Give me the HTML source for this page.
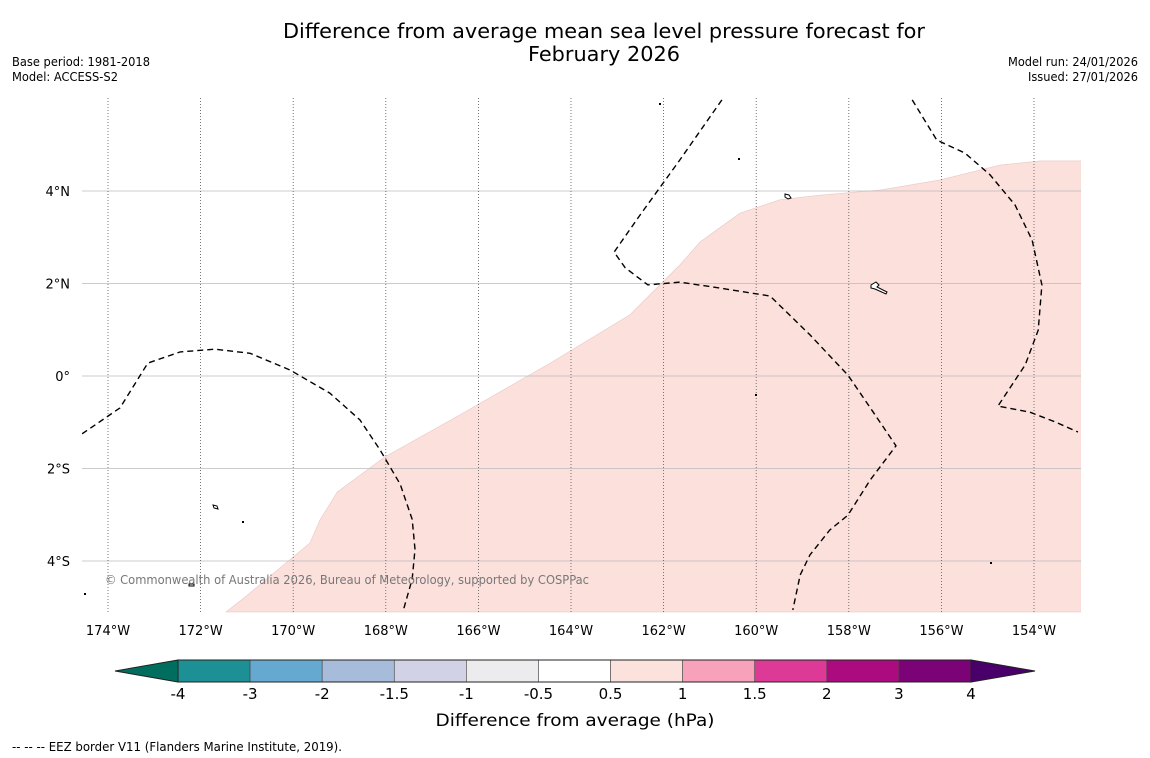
<!DOCTYPE html>
<html><head><meta charset="utf-8"><style>
body{margin:0;background:#fff;font-family:"DejaVu Sans","Liberation Sans",sans-serif}
svg{display:block}
</style></head><body>
<svg id="chart" width="1150" height="758" xmlns="http://www.w3.org/2000/svg" font-family="DejaVu Sans, Liberation Sans, sans-serif">
<rect width="1150" height="758" fill="#fff"/>
<text x="604" y="38" font-size="20.5" text-anchor="middle" textLength="642" lengthAdjust="spacingAndGlyphs">Difference from average mean sea level pressure forecast for</text>
<text x="604" y="61" font-size="20.5" text-anchor="middle" textLength="152" lengthAdjust="spacingAndGlyphs">February 2026</text>
<text x="12" y="66" font-size="12" textLength="138" lengthAdjust="spacingAndGlyphs">Base period: 1981-2018</text>
<text x="12" y="81" font-size="12" textLength="106" lengthAdjust="spacingAndGlyphs">Model: ACCESS-S2</text>
<text x="1008" y="66" font-size="12" textLength="130" lengthAdjust="spacingAndGlyphs">Model run: 24/01/2026</text>
<text x="1028" y="81" font-size="12" textLength="110" lengthAdjust="spacingAndGlyphs">Issued: 27/01/2026</text>
<g id="map"></g>
<g id="cbar"></g>
<text x="575" y="726" font-size="17" text-anchor="middle" textLength="279" lengthAdjust="spacingAndGlyphs">Difference from average (hPa)</text>
<text x="12" y="751" font-size="12" textLength="330" lengthAdjust="spacingAndGlyphs">--  --  -- EEZ border V11 (Flanders Marine Institute, 2019).</text>
</svg>
<script>
const lonTicks=[-174,-172,-170,-168,-166,-164,-162,-160,-158,-156,-154];
const latTicks=[4,2,0,-2,-4];
const posRegionLon=[-171.45,-171.04,-169.64,-169.42,-169.05,-168.02,-166.40,-164.45,-162.73,-161.65,-161.21,-160.35,-159.49,-158.62,-157.33,-156.03,-154.73,-153.87,-152.98,-152.98];
const posRegionLat=[-5.1,-4.78,-3.61,-3.11,-2.51,-1.75,-0.84,0.28,1.32,2.40,2.90,3.52,3.81,3.91,4.02,4.24,4.56,4.65,4.65,-5.1];
const contour1Lon=[-174.56,-173.74,-173.14,-172.44,-171.69,-170.93,-170.07,-169.21,-168.56,-168.13,-167.69,-167.43,-167.37,-167.43,-167.61];
const contour1Lat=[-1.25,-0.69,0.28,0.52,0.58,0.49,0.13,-0.37,-0.95,-1.59,-2.34,-3.10,-3.75,-4.39,-5.02];
const contour2Lon=[-160.74,-161.65,-162.51,-163.07,-162.83,-162.34,-161.65,-160.78,-159.70,-158.84,-158.02,-157.50,-156.98,-157.54,-158.02,-158.41,-158.84,-159.05,-159.21];
const contour2Lat=[5.97,4.67,3.48,2.68,2.34,1.97,2.03,1.90,1.73,0.89,0.02,-0.74,-1.51,-2.25,-3.01,-3.33,-3.87,-4.30,-5.06];
const contour3Lon=[-156.63,-156.10,-155.49,-154.95,-154.41,-154.04,-153.83,-153.91,-154.19,-154.52,-154.78,-154.09,-153.55,-153.05];
const contour3Lat=[5.97,5.10,4.82,4.35,3.70,2.94,1.97,0.99,0.24,-0.26,-0.65,-0.78,-0.99,-1.21];
const cbLevels=["-4","-3","-2","-1.5","-1","-0.5","0.5","1","1.5","2","3","4"];
const cbColors=["#1d9096","#66a9d0","#a7bcdb","#d2d2e6","#ececef","#ffffff","#fce2dd","#f7a1bb","#dd3a97","#ac0a7f","#7b0377"];

const NS="http://www.w3.org/2000/svg";
const X=lon=>108+(lon+174)*46.3;
const Y=lat=>376-lat*46.25;
function mk(t,a,p){const e=document.createElementNS(NS,t);for(const k in a)e.setAttribute(k,a[k]);p.appendChild(e);return e;}
const map=document.getElementById('map');
const defs=mk('defs',{},map);
const cp=mk('clipPath',{id:'clip'},defs);mk('rect',{x:82,y:98,width:999,height:515},cp);
const g=mk('g',{'clip-path':'url(#clip)'},map);
function pts(lo,la){return lo.map((v,i)=>X(v).toFixed(1)+','+Y(la[i]).toFixed(1)).join(' ');}
const poly=mk('polygon',{points:pts(posRegionLon,posRegionLat),fill:'#fbe0dc',stroke:'#e8c8c4','stroke-width':0.6},g);


latTicks.forEach(v=>{
 const l=mk('line',{x1:82,x2:1081,y1:Y(v),y2:Y(v),stroke:'#bbb','stroke-width':0.8},g);
 
 
 const t=mk('text',{x:70,y:Y(v)+5,'font-size':13,'text-anchor':'end'},map);
 t.textContent=v===0?'0°':Math.abs(v)+'°'+(v>0?'N':'S');
 
 
});
lonTicks.forEach(v=>{
 const l=mk('line',{x1:X(v),x2:X(v),y1:98,y2:613,stroke:'#555','stroke-width':0.8,'stroke-dasharray':'1,2'},g);
 
 
 const t=mk('text',{x:X(v),y:635,'font-size':13,'text-anchor':'middle'},map);
 t.textContent=Math.abs(v)+'°W';
 
 
});
[[contour1Lon,contour1Lat],[contour2Lon,contour2Lat],[contour3Lon,contour3Lat]].forEach(([lo,la])=>{
 const c=mk('polyline',{points:pts(lo,la),fill:'none',stroke:'#000','stroke-width':1.4,'stroke-dasharray':'6,4'},g);
 
 
});
[[215,507,'M213,505 l4,1 l1,3 l-4,-1z'],[787,196,'M785,194 l4,1 l2,3 l-3,1 l-3,-2z'],[875,288,'M871,285 l5,-3 l3,3 l-2,2 l10,5 l-1,2 l-11,-5 l-4,-1z'],[192,585,'M189,584 l5,0 l0,2 l-5,0z']].forEach(a=>{
 const p=mk('path',{d:a[2],fill:'#fff',stroke:'#000','stroke-width':1},g);
 
 
});
[[242,521],[659,103],[738,158],[755,394],[990,562],[84,593]].forEach(a=>{
 const p=mk('rect',{x:a[0],y:a[1],width:2,height:2,fill:'#000'},g);
 
 
});
const cr=mk('text',{x:105,y:584,'font-size':12,fill:'#777',textLength:484,lengthAdjust:'spacingAndGlyphs'},map);
cr.textContent='© Commonwealth of Australia 2026, Bureau of Meteorology, supported by COSPPac';



const cb=document.getElementById('cbar');
const x0=178,x1=971,y0=660,y1=682,n=cbColors.length,w=(x1-x0)/n;
const tl=mk('polygon',{points:`${x0},${y0} ${x0},${y1} 115,671`,fill:'#006e5e',stroke:'#222','stroke-width':1},cb);


const tr=mk('polygon',{points:`${x1},${y0} ${x1},${y1} 1035,671`,fill:'#49006a',stroke:'#222','stroke-width':1},cb);


cbColors.forEach((c,i)=>{
 const r=mk('rect',{x:x0+i*w,y:y0,width:w,height:y1-y0,fill:c,stroke:'#444','stroke-width':0.6},cb);
 
 
});
mk('rect',{x:x0,y:y0,width:x1-x0,height:y1-y0,fill:'none',stroke:'#222','stroke-width':1},cb);
cbLevels.forEach((v,i)=>{
 const t=mk('text',{x:x0+i*w,y:699,'font-size':15,'text-anchor':'middle'},cb);
 t.textContent=v;
 
 
});
</script>
</body></html>
